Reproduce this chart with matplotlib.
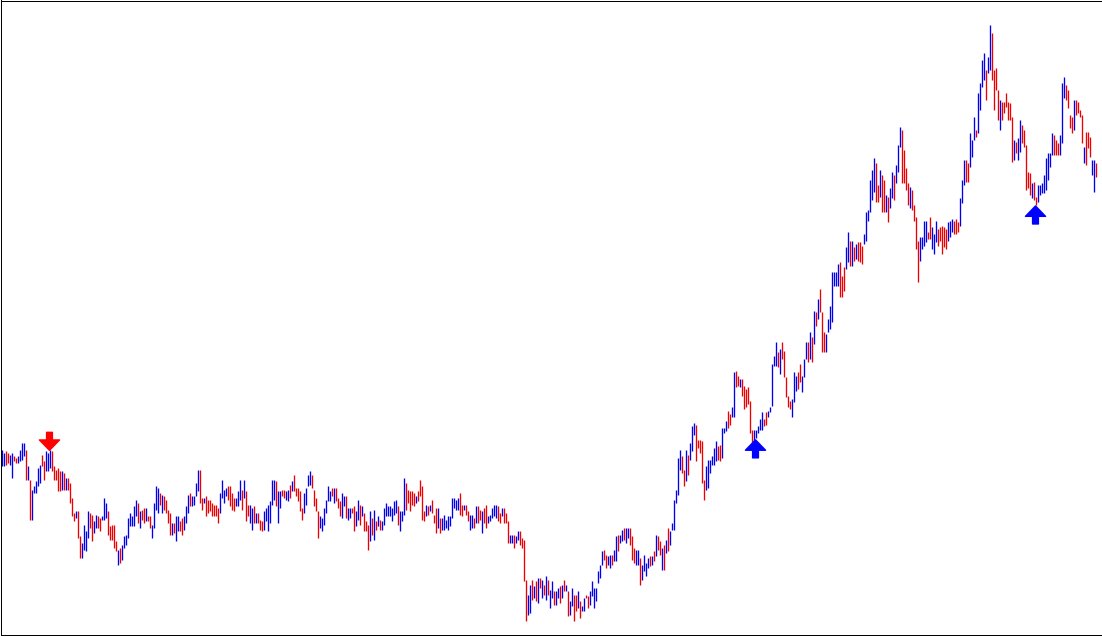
import numpy as np
import matplotlib
matplotlib.use("Agg")
import matplotlib.pyplot as plt

# bar highs / lows (arbitrary price units), left to right
highs_a = [188, 185, 187, 185, 183, 185, 182, 180, 182, 188,
           195, 195, 188, 172, 158, 148, 152, 157, 170, 173,
           183, 177, 187, 185, 188, 187, 172, 168, 170, 167,
           167, 165, 160, 160, 155, 140, 125, 127, 127, 102,
           95, 113, 107, 127, 125, 123, 117, 123, 122, 120,
           122, 140, 135, 127, 112, 113, 113, 97, 88, 90,
           93, 102, 103, 120, 125, 122, 132, 138, 135, 127,
           128, 130, 130, 122, 122, 113, 135, 152, 150, 145,
           143, 142, 138, 128, 125, 115, 115, 122, 122, 117, 120]
lows_a = [172, 172, 173, 175, 173, 160, 177, 175, 175, 177,
          178, 182, 158, 158, 118, 118, 145, 145, 152, 155,
          172, 158, 167, 167, 170, 167, 158, 158, 147, 147,
          148, 148, 148, 148, 135, 122, 117, 120, 100, 80,
          80, 88, 87, 100, 110, 97, 105, 110, 110, 107,
          118, 118, 120, 103, 98, 98, 90, 87, 73, 75,
          78, 90, 93, 100, 112, 112, 112, 122, 115, 110,
          118, 115, 117, 117, 110, 100, 110, 128, 125, 133,
          125, 128, 125, 115, 103, 103, 105, 97, 107, 107, 103]

highs_b = [122, 132, 143, 145, 142, 142, 155, 168, 168, 140,
           140, 142, 138, 138, 135, 133, 133, 130, 145, 158,
           148, 150, 152, 152, 145, 140, 140, 147, 158, 148,
           158, 147, 133, 133, 130, 132, 125, 125, 118, 117,
           127, 130, 133, 137, 158, 158, 157, 147, 147, 148,
           148, 147, 148, 153, 157, 163, 150, 150, 147, 130,
           145, 150, 163, 167, 163, 148, 140, 127, 122, 120,
           130, 138, 152, 147, 150, 150, 150, 140, 137, 145,
           142, 142, 130, 130, 130, 132, 127, 138, 133, 132,
           125, 117]
lows_b = [108, 115, 125, 132, 132, 133, 142, 147, 135, 128,
          135, 122, 125, 127, 122, 122, 122, 115, 125, 140,
          135, 142, 138, 132, 128, 127, 132, 132, 138, 128,
          140, 117, 122, 115, 108, 115, 115, 115, 108, 107,
          108, 117, 107, 115, 133, 138, 132, 115, 130, 142,
          140, 138, 137, 140, 147, 147, 142, 137, 127, 118,
          125, 133, 152, 153, 150, 132, 127, 100, 110, 107,
          113, 125, 137, 137, 142, 135, 137, 130, 122, 120,
          132, 120, 118, 120, 125, 107, 112, 118, 113, 122,
          107, 107]

highs_c = [113, 127, 120, 128, 117, 122, 118, 117, 130, 135,
           132, 132, 130, 137, 138, 132, 127, 127, 160, 155,
           148, 147, 147, 145, 142, 147, 158, 152, 127, 133,
           132, 133, 138, 123, 130, 130, 120, 120, 123, 118,
           122, 122, 140, 140, 138, 140, 145, 133, 133, 133,
           127, 123, 123, 120, 132, 132, 128, 127, 130, 133,
           122, 123, 130, 133, 133, 132, 125, 130, 130, 125,
           117, 103, 103, 103, 102, 107, 107, 100, 98, 58,
           43, 53, 58, 52, 57, 60, 60, 58, 53, 62,
           58, 48, 57]
lows_c = [88, 97, 103, 98, 108, 112, 108, 108, 113, 122,
          122, 122, 117, 123, 125, 113, 107, 117, 123, 128,
          135, 127, 133, 132, 135, 137, 142, 118, 117, 122,
          123, 127, 125, 115, 105, 110, 105, 108, 108, 110,
          108, 112, 120, 130, 128, 128, 123, 122, 128, 123,
          117, 108, 110, 110, 115, 115, 118, 105, 115, 110,
          115, 117, 120, 122, 120, 117, 115, 122, 115, 115,
          95, 95, 95, 90, 95, 98, 93, 90, 57, 17,
          23, 25, 38, 40, 37, 35, 50, 40, 43, 38,
          43, 30, 40]

highs_d = [47, 47, 50, 52, 53, 58, 53, 47, 37, 50,
           43, 43, 47, 37, 32, 40, 43, 42, 47, 57,
           50, 50, 67, 73, 87, 88, 83, 82, 83, 83,
           88, 102, 103, 103, 108, 110, 110, 110, 110, 102,
           90, 88, 88, 80, 73, 83, 75, 80, 82, 82,
           87, 103, 102, 97, 90, 93, 98, 110, 107, 115,
           138, 148, 180, 188, 182, 168, 188, 183, 195, 212,
           215, 213, 198, 198, 197, 158, 172, 178, 178, 182,
           190, 197, 192, 193, 210, 210, 218, 228, 225, 232,
           267, 268]
lows_d = [33, 33, 40, 35, 40, 47, 47, 22, 23, 32,
          17, 27, 30, 20, 27, 27, 40, 30, 33, 42,
          30, 37, 55, 60, 73, 78, 70, 73, 70, 73,
          77, 77, 87, 95, 97, 98, 95, 100, 93, 78,
          75, 73, 73, 53, 58, 67, 62, 70, 72, 73,
          77, 82, 88, 83, 68, 68, 85, 87, 93, 108,
          108, 135, 143, 168, 165, 152, 157, 163, 178, 187,
          203, 177, 190, 185, 155, 138, 148, 150, 165, 173,
          173, 177, 178, 177, 180, 205, 207, 210, 213, 222,
          222, 252]

highs_e = [263, 260, 260, 253, 250, 252, 238, 208, 208, 208,
           212, 220, 227, 220, 227, 228, 232, 275, 283, 297,
           287, 290, 297, 288, 262, 243, 238, 240, 267, 263,
           267, 275, 263, 280, 297, 297, 307, 302, 328, 327,
           340, 350, 327, 307, 305, 320, 333, 367, 367, 367,
           375, 377, 363, 372, 392, 407, 398, 398, 392, 395,
           397, 397, 393, 405, 427, 430, 460, 470, 482, 477,
           455, 470, 465, 460, 445, 443, 452, 468, 465, 475,
           495, 513, 510, 490, 472, 457, 453, 450, 435, 422,
           398, 402]
lows_e = [253, 252, 243, 230, 232, 235, 205, 195, 183, 200,
          205, 208, 208, 212, 213, 222, 227, 233, 273, 273,
          272, 265, 280, 262, 242, 232, 230, 222, 237, 248,
          250, 257, 247, 262, 280, 277, 280, 277, 295, 313,
          320, 327, 287, 287, 287, 307, 310, 317, 353, 353,
          353, 342, 342, 348, 370, 377, 373, 373, 378, 380,
          378, 377, 375, 395, 398, 418, 427, 440, 448, 438,
          438, 443, 428, 428, 427, 417, 432, 442, 440, 457,
          468, 493, 457, 457, 450, 435, 432, 430, 418, 390,
          357, 378]

highs_f = [402, 418, 418, 407, 422, 412, 405, 418, 410, 412,
           413, 412, 410, 417, 418, 420, 418, 420, 417, 442,
           460, 480, 480, 477, 507, 500, 523, 510, 547, 557,
           580, 587, 570, 583, 615, 607, 570, 572, 550, 540,
           538, 538, 547, 538, 537, 523, 500, 498, 502, 520,
           515, 510, 495, 468, 467, 457, 458, 443, 455, 455,
           457, 465, 482, 487, 487, 507, 505, 500, 497, 505,
           557, 563, 555, 550, 525, 523, 540, 540, 538, 530,
           525, 493, 508, 508, 503, 480, 480, 477]
lows_f = [390, 393, 397, 400, 400, 390, 385, 397, 393, 398,
          385, 392, 390, 398, 402, 407, 405, 405, 407, 413,
          437, 455, 458, 458, 473, 483, 500, 503, 507, 530,
          553, 560, 540, 567, 570, 560, 530, 550, 520, 510,
          520, 527, 533, 520, 520, 478, 480, 487, 480, 488,
          497, 493, 450, 452, 445, 442, 440, 435, 438, 445,
          447, 447, 450, 460, 473, 485, 485, 485, 485, 485,
          497, 542, 540, 532, 512, 507, 510, 525, 527, 523,
          497, 477, 475, 492, 483, 465, 448, 463]

# u = up bar, d = down bar
direction = (
    "uudduudduu" "uududuuuuu" "dduuuddddd" "ududdddudd" "uuuudduudd"
    "uuudddddud" "uuuuuuuudu" "ddudduuuud" "udddduduudd"
    "uuuduuuudd" "uddddddduu" "uudddduuud" "udduududdd" "uuuuuuduud"
    "duududdddd" "uuuudddduu" "uuuududddu" "uduudduudu" "dd"
    "dudududuuu" "uuuuuduuud" "dddduddddu" "duddduduuu" "uuuuuuddud"
    "duududdudd" "uuuuuddudd" "duuduudddd" "uududududu" "duu"
    "duudududuu" "dduduudduu" "uuuuudduud" "uuduuduudd" "duuduuuudu"
    "duddududuu" "uuuudduduu" "uddddduuuu" "uudduuuddu" "ud"
    "dudddddduu" "uuudduuuuu" "duddddduuu" "dduuududud" "uddduuuuuu"
    "uddduududu" "ddduuuuuud" "dudduduudu" "uudddduddd" "du"
    "uuudduuudd" "ddduuudddu" "uudduuuduu" "uuduuddddu" "dddddduduu"
    "dddddudduu" "uuuuuudddu" "uudddduddd" "duddduud"
)

# arrow signals: bar index and kind
signal_bars = [24, 377, 517]
signal_kinds = ["sell", "buy", "buy"]

highs = highs_a + highs_b + highs_c + highs_d + highs_e + highs_f
lows = lows_a + lows_b + lows_c + lows_d + lows_e + lows_f
n = len(highs)

W, H = 1102, 637
fig = plt.figure(figsize=(W / 100, H / 100), dpi=100)
# frame from pixel 0.5 to 1101.5 horizontally, 2.5 to 636.5 from the bottom
ax = fig.add_axes([0.5 / W, 2.5 / H, 1101 / W, 634 / H])

x = np.arange(n)
colors = ["#0000ee" if d == "u" else "#ee0000" for d in direction[:n]]
ax.vlines(x, lows, highs, colors=colors, linewidth=0.95, capstyle="butt")

arrow_style = "simple,head_length=0.75,head_width=1.45,tail_width=0.42"
for i, kind in zip(signal_bars, signal_kinds):
    if kind == "sell":
        ax.annotate("", xy=(i, highs[i]), xytext=(0, 13), textcoords="offset points",
                    arrowprops=dict(arrowstyle=arrow_style, color="#ff0000",
                                    mutation_scale=10, shrinkA=0, shrinkB=0), zorder=5)
    else:
        ax.annotate("", xy=(i, lows[i]), xytext=(0, -14), textcoords="offset points",
                    arrowprops=dict(arrowstyle=arrow_style, color="#0000ff",
                                    mutation_scale=10, shrinkA=0, shrinkB=1), zorder=5)

# two pixels per bar
ax.set_xlim(-0.5, -0.5 + 1101 / 2)
ax.set_ylim(3, 640)
ax.set_xticks([])
ax.set_yticks([])
for s in ax.spines.values():
    s.set_linewidth(0.72)
    s.set_color("black")

fig.savefig("out.png", dpi=100)
